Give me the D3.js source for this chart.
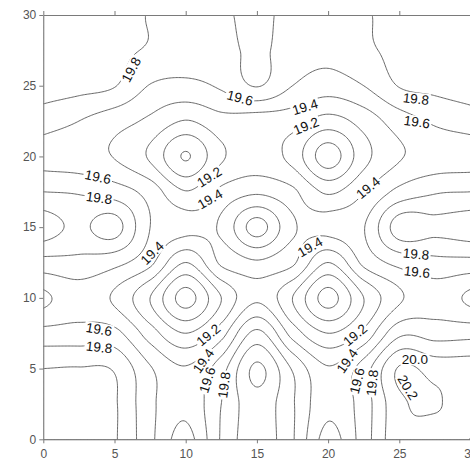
<!DOCTYPE html>
<html>
<head>
<meta charset="utf-8">
<script src="https://cdn.jsdelivr.net/npm/d3@7"></script>
<style>
  html, body { margin: 0; padding: 0; background: #fff; }
  svg { display: block; }
</style>
</head>
<body>
<svg id="chart" width="470" height="462"></svg>
<script>
// Grid nodes (both axes), every 2.5 units from 0 to 30
const gridX = [0, 2.5, 5, 7.5, 10, 12.5, 15, 17.5, 20, 22.5, 25, 27.5, 30];
const gridY = [0, 2.5, 5, 7.5, 10, 12.5, 15, 17.5, 20, 22.5, 25, 27.5, 30];

// Surface values, one row per gridY value (left to right along gridX)
const rowY0    = [20.10, 20.10, 20.02, 19.65, 19.33, 19.82, 20.12, 19.82, 19.33, 19.70, 20.14, 20.08, 20.205];
const rowY2_5  = [20.08, 20.08, 20.02, 19.65, 19.45, 19.80, 20.12, 19.82, 19.45, 19.70, 20.15, 20.22, 20.05];
const rowY5    = [20.00, 20.01, 19.98, 19.62, 19.42, 19.72, 20.24, 19.78, 19.42, 19.70, 20.22, 20.12, 20.10];
const rowY7_5  = [19.67, 19.68, 19.66, 19.30, 19.00, 19.32, 19.85, 19.32, 19.00, 19.25, 19.75, 19.72, 19.73];
const rowY10   = [19.36, 19.50, 19.37, 19.00, 18.53, 19.00, 19.36, 19.00, 18.53, 19.00, 19.37, 19.50, 19.36];
const rowY12_5 = [19.73, 19.74, 19.66, 19.45, 19.00, 19.43, 19.42, 19.43, 19.00, 19.45, 19.66, 19.74, 19.74];
const rowY15   = [20.10, 19.96, 20.08, 19.60, 19.47, 19.37, 18.92, 19.37, 19.47, 19.59, 20.10, 20.05, 20.10];
const rowY17_5 = [19.80, 19.78, 19.70, 19.52, 19.21, 19.43, 19.42, 19.43, 19.17, 19.39, 19.66, 19.78, 19.80];
const rowY20   = [19.52, 19.47, 19.39, 19.17, 18.785, 19.17, 19.30, 19.13, 18.70, 19.13, 19.38, 19.47, 19.50];
const rowY22_5 = [19.69, 19.60, 19.48, 19.36, 19.19, 19.33, 19.30, 19.28, 19.12, 19.28, 19.50, 19.63, 19.70];
const rowY25   = [19.90, 19.86, 19.81, 19.59, 19.55, 19.63, 19.81, 19.60, 19.50, 19.60, 19.81, 19.85, 19.90];
const rowY27_5 = [19.93, 19.88, 19.84, 19.78, 19.70, 19.73, 19.84, 19.70, 19.66, 19.76, 19.85, 19.88, 19.92];
const rowY30   = [19.95, 19.90, 19.87, 19.79, 19.72, 19.76, 19.86, 19.72, 19.70, 19.78, 19.86, 19.90, 19.93];

// Isoline levels
const levels = [18.6, 18.8, 19.0, 19.2, 19.4, 19.6, 19.8, 20.0, 20.2];

// Axis ticks
const tickValues = [0, 5, 10, 15, 20, 25, 30];

// Inline isoline labels: the level each one names ...
const labelLevels = [19.8, 19.6, 19.4, 19.2, 19.8, 19.6, 19.6, 19.8, 19.2, 19.4, 19.4, 19.4, 19.4,
                     19.8, 19.6, 19.6, 19.8, 19.2, 19.4, 19.6, 19.8, 19.2, 19.4, 19.6, 19.8, 20.0, 20.2];
// ... and where it sits: [x, y, rotation in degrees]
const labelSpots = [
  [6.16, 26.14, -62], [13.81, 24.15, 15], [18.38, 23.51, -17], [18.45, 22.17, -22],
  [26.17, 24.08, 6], [26.24, 22.45, 8], [3.84, 18.56, 12], [3.92, 17.08, 8],
  [11.65, 18.56, -32], [11.71, 17.0, -30], [22.80, 17.79, -40], [7.64, 13.18, -45],
  [18.73, 13.60, -30], [26.17, 13.11, 5], [26.24, 11.84, 6], [3.92, 7.79, 10],
  [3.92, 6.52, 6], [11.58, 7.39, -40], [11.23, 5.55, -55], [11.50, 4.20, -72],
  [12.69, 3.84, -82], [21.89, 7.39, -40], [21.33, 5.55, -55], [22.03, 4.13, -76],
  [23.08, 3.99, -84], [26.10, 5.65, 0], [25.61, 3.67, 58]
];

const rows = [rowY0, rowY2_5, rowY5, rowY7_5, rowY10, rowY12_5, rowY15,
              rowY17_5, rowY20, rowY22_5, rowY25, rowY27_5, rowY30];

const svg = d3.select("#chart");
const x = d3.scaleLinear().domain([0, 30]).range([43.3, 470.5]);
const y = d3.scaleLinear().domain([0, 30]).range([439.3, 15]);

// ---- surface lookup with a bicubic (Catmull-Rom) kernel so isolines come out smooth
const nx = gridX.length, ny = gridY.length, cell = gridX[1] - gridX[0];
function node(i, j) {
  if (i < 0) return 2 * node(0, j) - node(1, j);
  if (i >= nx) return 2 * node(nx - 1, j) - node(nx - 2, j);
  if (j < 0) return 2 * node(i, 0) - node(i, 1);
  if (j >= ny) return 2 * node(i, ny - 1) - node(i, ny - 2);
  return rows[j][i];
}
function cr(p0, p1, p2, p3, t) {
  return p1 + 0.5 * t * (p2 - p0 + t * (2 * p0 - 5 * p1 + 4 * p2 - p3 + t * (3 * (p1 - p2) + p3 - p0)));
}
function surface(px, py) {
  const fx = px / cell, fy = py / cell;
  let i = Math.min(Math.floor(fx), nx - 2), j = Math.min(Math.floor(fy), ny - 2);
  const tx = fx - i, ty = fy - j;
  const col = [];
  for (let m = -1; m <= 2; m++) {
    col.push(cr(node(i - 1, j + m), node(i, j + m), node(i + 1, j + m), node(i + 2, j + m), tx));
  }
  return cr(col[0], col[1], col[2], col[3], ty);
}

const STEP = 0.1;
const N = Math.round(30 / STEP) + 1;
const values = new Float64Array(N * N);
for (let r = 0; r < N; r++) {
  for (let c = 0; c < N; c++) values[r * N + c] = surface(c * STEP, r * STEP);
}
const bands = d3.contours().size([N, N]).thresholds(levels)(values);

const toScreen = d3.geoTransform({
  point(px, py) { this.stream.point(x((px - 0.5) * STEP), y((py - 0.5) * STEP)); }
});
const path = d3.geoPath(toScreen);

svg.append("defs").append("clipPath").attr("id", "plot-clip")
  .append("rect")
  .attr("x", x(0)).attr("y", y(30))
  .attr("width", x(30) - x(0)).attr("height", y(0) - y(30));

svg.append("g")
  .attr("clip-path", "url(#plot-clip)")
  .selectAll("path")
  .data(bands)
  .join("path")
  .attr("d", path)
  .attr("fill", "none")
  .attr("stroke", "#4d4d4d")
  .attr("stroke-width", 0.85);

// ---- frame and axes
const axisColor = "#7a7a7a";
const fontFamily = "'Liberation Sans', Arial, Helvetica, sans-serif";
function styleAxis(g) {
  g.select(".domain").attr("stroke", axisColor);
  g.selectAll(".tick line").attr("stroke", axisColor);
  g.selectAll(".tick text").attr("fill", "#555").attr("font-size", 12).attr("font-family", fontFamily);
}
svg.append("g").attr("transform", `translate(0,${y(0)})`)
  .call(d3.axisBottom(x).tickValues(tickValues).tickSize(4).tickSizeOuter(0).tickPadding(6).tickFormat(d3.format("d")))
  .call(styleAxis);
svg.append("g").attr("transform", `translate(${x(0)},0)`)
  .call(d3.axisLeft(y).tickValues(tickValues).tickSize(4).tickSizeOuter(0).tickPadding(3).tickFormat(d3.format("d")))
  .call(styleAxis);
svg.append("g").attr("transform", `translate(0,${y(30)})`)
  .call(d3.axisTop(x).tickValues(tickValues).tickSize(4).tickSizeOuter(0).tickFormat(() => ""))
  .call(styleAxis);
svg.append("g").attr("transform", `translate(${x(30)},0)`)
  .call(d3.axisRight(y).tickValues(tickValues).tickSize(4).tickSizeOuter(0).tickFormat(() => ""))
  .call(styleAxis);

// ---- inline isoline labels, each breaking its line
const labels = svg.append("g")
  .attr("font-family", fontFamily)
  .attr("font-size", 13.5)
  .attr("fill", "#111");
labelLevels.forEach((lv, k) => {
  const [lx, ly, ang] = labelSpots[k];
  const g = labels.append("g").attr("transform", `translate(${x(lx)},${y(ly)}) rotate(${ang})`);
  const box = g.append("rect").attr("fill", "#fff");
  const t = g.append("text").attr("text-anchor", "middle").attr("dy", "0.36em").text(lv.toFixed(1));
  const w = t.node().getComputedTextLength();
  box.attr("x", -w / 2 - 1.5).attr("y", -6).attr("width", w + 3).attr("height", 12);
});
</script>
</body>
</html>
